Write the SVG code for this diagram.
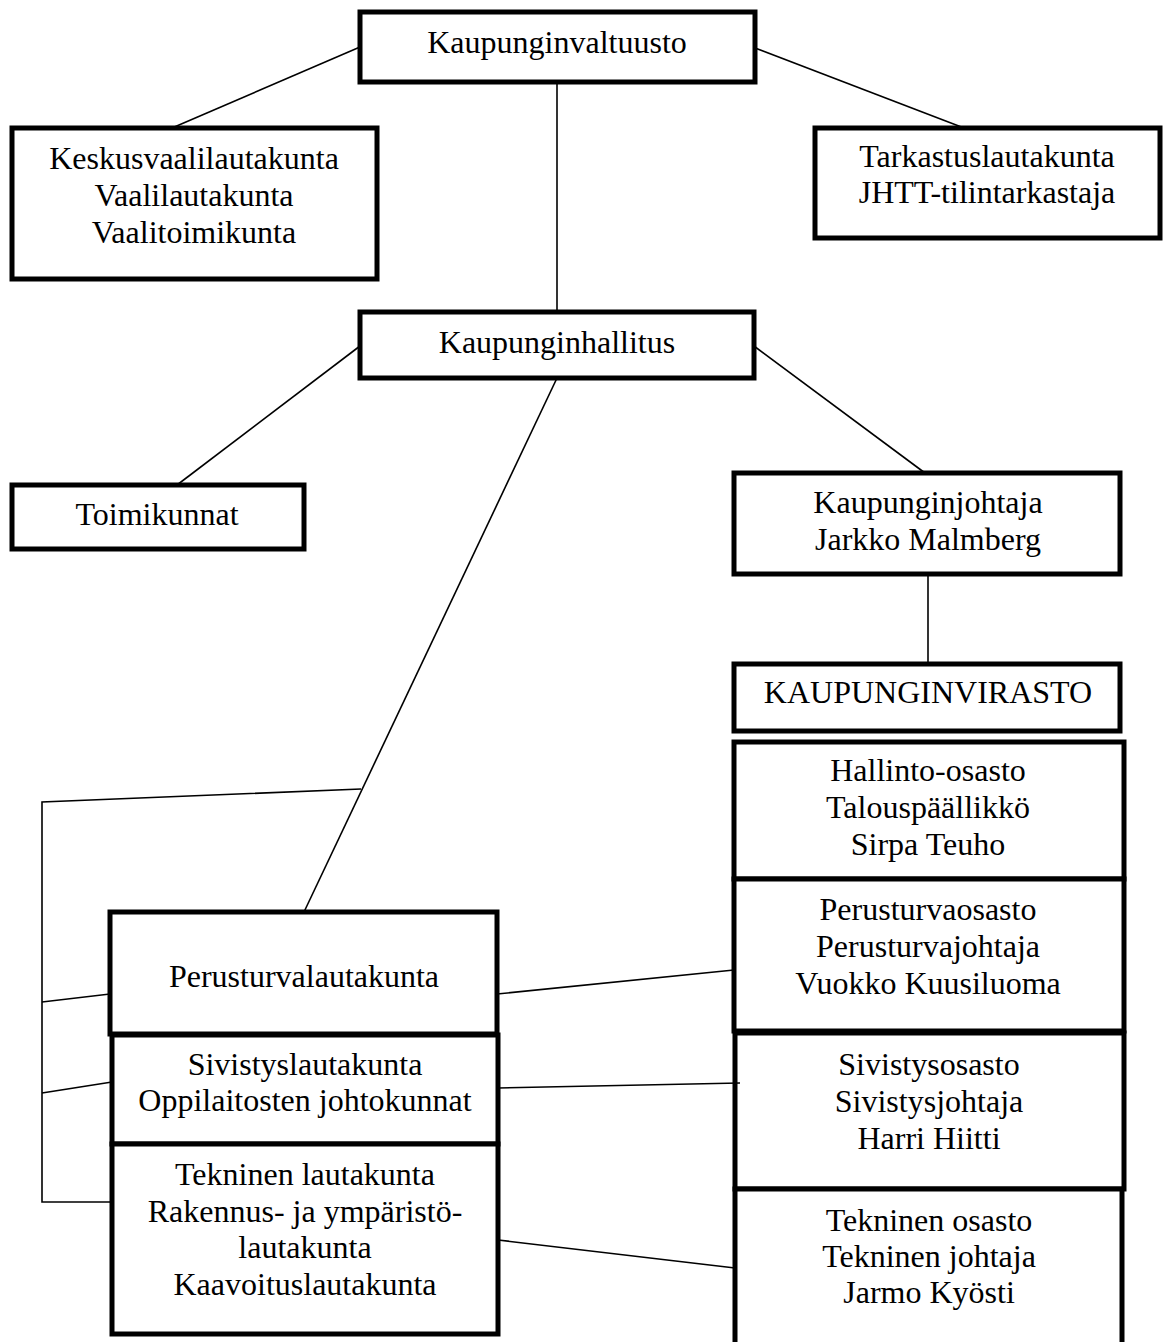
<svg xmlns="http://www.w3.org/2000/svg" width="1164" height="1342" viewBox="0 0 1164 1342">
<style>
.box{fill:#fff;stroke:#000;stroke-width:5}
.t{font-family:"Liberation Serif","Times New Roman",serif;font-size:32px;fill:#000;text-anchor:middle}
.c{stroke:#000;stroke-width:1.6;fill:none}
</style>
<rect width="1164" height="1342" fill="#fff"/>
<g id="kaupunginvaltuusto">
<rect class="box" x="360" y="12" width="395" height="70"/>
<text class="t" x="557" y="53">Kaupunginvaltuusto</text>
</g>
<g id="keskusvaalilautakunta">
<rect class="box" x="12" y="128" width="365" height="151"/>
<text class="t" x="194" y="169">Keskusvaalilautakunta</text>
<text class="t" x="194" y="206">Vaalilautakunta</text>
<text class="t" x="194" y="243">Vaalitoimikunta</text>
</g>
<g id="tarkastuslautakunta">
<rect class="box" x="815" y="128" width="345" height="110"/>
<text class="t" x="987" y="167">Tarkastuslautakunta</text>
<text class="t" x="987" y="203">JHTT-tilintarkastaja</text>
</g>
<g id="kaupunginhallitus">
<rect class="box" x="360" y="312" width="394" height="66"/>
<text class="t" x="557" y="353">Kaupunginhallitus</text>
</g>
<g id="toimikunnat">
<rect class="box" x="12" y="485" width="292" height="64"/>
<text class="t" x="157" y="525">Toimikunnat</text>
</g>
<g id="kaupunginjohtaja">
<rect class="box" x="734" y="473" width="386" height="101"/>
<text class="t" x="928" y="513">Kaupunginjohtaja</text>
<text class="t" x="928" y="550">Jarkko Malmberg</text>
</g>
<g id="kaupunginvirasto">
<rect class="box" x="734" y="664" width="386" height="67"/>
<text class="t" x="928" y="703">KAUPUNGINVIRASTO</text>
</g>
<g id="hallinto-osasto">
<rect class="box" x="734" y="742" width="390" height="137"/>
<text class="t" x="928" y="781">Hallinto-osasto</text>
<text class="t" x="928" y="818">Talouspäällikkö</text>
<text class="t" x="928" y="855">Sirpa Teuho</text>
</g>
<g id="perusturvaosasto">
<rect class="box" x="734" y="879" width="390" height="152"/>
<text class="t" x="928" y="920">Perusturvaosasto</text>
<text class="t" x="928" y="957">Perusturvajohtaja</text>
<text class="t" x="928" y="994">Vuokko Kuusiluoma</text>
</g>
<g id="sivistysosasto">
<rect class="box" x="735" y="1033" width="389" height="156"/>
<text class="t" x="929" y="1075">Sivistysosasto</text>
<text class="t" x="929" y="1112">Sivistysjohtaja</text>
<text class="t" x="929" y="1149">Harri Hiitti</text>
</g>
<g id="tekninen-osasto">
<rect class="box" x="735" y="1189" width="387" height="200"/>
<text class="t" x="929" y="1231">Tekninen osasto</text>
<text class="t" x="929" y="1267">Tekninen johtaja</text>
<text class="t" x="929" y="1303">Jarmo Kyösti</text>
</g>
<g id="perusturvalautakunta">
<rect class="box" x="110" y="912" width="387" height="122"/>
<text class="t" x="304" y="987">Perusturvalautakunta</text>
</g>
<g id="sivistyslautakunta">
<rect class="box" x="112" y="1035" width="386" height="109"/>
<text class="t" x="305" y="1075">Sivistyslautakunta</text>
<text class="t" x="305" y="1111">Oppilaitosten johtokunnat</text>
</g>
<g id="tekninen-lautakunta">
<rect class="box" x="112" y="1144" width="386" height="190"/>
<text class="t" x="305" y="1185">Tekninen lautakunta</text>
<text class="t" x="305" y="1222">Rakennus- ja ympäristö-</text>
<text class="t" x="305" y="1258">lautakunta</text>
<text class="t" x="305" y="1295">Kaavoituslautakunta</text>
</g>
<g id="connectors">
<line class="c" x1="360" y1="47" x2="172" y2="128"/>
<line class="c" x1="755" y1="48" x2="964" y2="128"/>
<line class="c" x1="557" y1="82" x2="557" y2="312"/>
<line class="c" x1="360" y1="346" x2="177" y2="485"/>
<line class="c" x1="754" y1="346" x2="925" y2="473"/>
<line class="c" x1="557" y1="378" x2="304" y2="912"/>
<line class="c" x1="928" y1="574" x2="928" y2="664"/>
<polyline class="c" points="361,789 42,802 42,1202 110,1202"/>
<line class="c" x1="42" y1="1002" x2="110" y2="994"/>
<line class="c" x1="42" y1="1093" x2="112" y2="1082"/>
<line class="c" x1="497" y1="994" x2="734" y2="970"/>
<line class="c" x1="498" y1="1088" x2="740" y2="1083"/>
<line class="c" x1="498" y1="1240" x2="735" y2="1268"/>
</g>
</svg>
